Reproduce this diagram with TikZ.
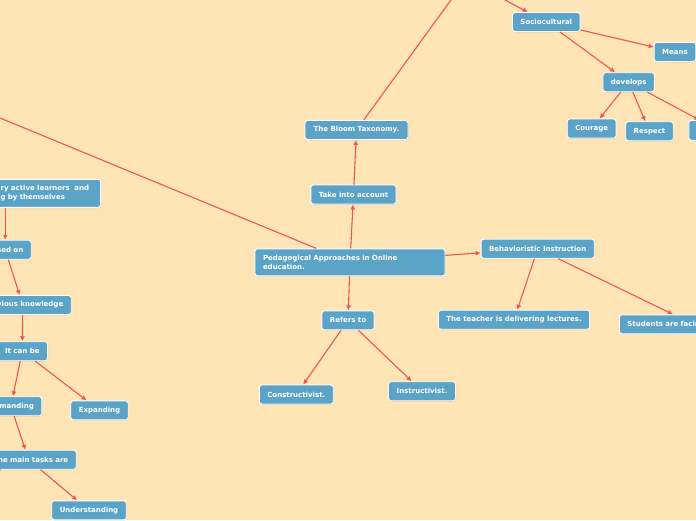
\documentclass[tikz,border=0pt]{standalone}
\usepackage{fontspec}
\setmainfont{DejaVu Sans}
\usetikzlibrary{arrows.meta,shadows}
\definecolor{bgc}{RGB}{255,228,181}
\definecolor{nodeblue}{RGB}{91,164,200}
\definecolor{linered}{RGB}{238,86,86}
\tikzset{
  box/.style={rectangle, rounded corners=2.5pt, fill=nodeblue, draw=white, line width=0.9pt,
    text=white, font=\bfseries\fontsize{7}{8.5}\selectfont, minimum height=19pt,
    inner xsep=8pt, inner ysep=2pt,
    drop shadow={opacity=0.25, shadow xshift=0.5pt, shadow yshift=-0.8pt}},
  arr/.style={draw=linered, line width=1.1pt, -{Latex[length=5pt,width=5pt]}}
}
\begin{document}
\begin{tikzpicture}[x=1pt,y=-1pt]
\useasboundingbox (0,0) rectangle (696,520);
\fill[bgc] (0,0) rectangle (696,520);
\clip (0,0) rectangle (696,520);

% centre
\node[box, minimum height=27pt, text width=174pt, align=left] (main) at (350,262.3) {Pedagogical Approaches in Online\\education.};
\node[box, minimum width=85pt] (take) at (353.5,194.5) {Take into account};
\node[box, minimum width=103pt] (bloom) at (356.5,130) {The Bloom Taxonomy.};
\node[box, minimum width=52pt] (refers) at (348,320.3) {Refers to};
\node[box, minimum width=71pt] (constr) at (296.3,394.5) {Constructivist.};
\node[box, minimum width=67pt] (instr) at (422,391.2) {Instructivist.};
\node[box, minimum width=113pt] (behav) at (537.7,248.7) {Behavioristic Instruction};
\node[box, minimum width=149pt] (teacher) at (514,319.7) {The teacher is delivering lectures.};
\node[box, anchor=west, text width=132pt, align=left] (students) at (619,324.3) {Students are facing};

% top right
\node[box, minimum width=67pt] (socio) at (546.3,22) {Sociocultural};
\node[box, minimum width=40pt] (means) at (675,52) {Means};
\node[box, minimum width=51pt] (develops) at (628.7,82.2) {develops};
\node[box, minimum width=48pt] (courage) at (591.7,128.5) {Courage};
\node[box, minimum width=46pt] (respect) at (649.5,131.2) {Respect};
\node[box, anchor=west, minimum width=60pt, minimum height=20pt] (rnode) at (688.5,130.3) {};

% left
\node[box, anchor=east, minimum height=28pt, text width=92pt, align=left] (active) at (101,193.3) {ry active learners\ \ and\\g by themselves};
\node[box, anchor=east, text width=36pt, align=right] (sedon) at (31.7,249.7) {sed on};
\node[box, anchor=east, text width=81pt, align=right] (vious) at (71.7,305) {vious knowledge};
\node[box, minimum width=50pt] (canbe) at (22.3,351.2) {It can be};
\node[box, anchor=east, text width=46pt, align=right] (manding) at (42.3,406.2) {manding};
\node[box, minimum width=56pt] (expanding) at (99.5,410.3) {Expanding};
\node[box, anchor=east, text width=79pt, align=right] (tasks) at (76.7,459.7) {he main tasks are};
\node[box, minimum width=73pt] (underst) at (89,510.3) {Understanding};

% off-canvas ends
\coordinate (offL) at (-40,101.5);
\coordinate (offT) at (480,-40);
\coordinate (offS) at (430,-40);
\coordinate (offTL) at (-60,491);

% connectors
\draw[arr] (main) -- (take);
\draw[arr] (take) -- (bloom);
\draw[arr] (bloom) -- (offT);
\draw[arr] (offS) -- (socio);
\draw[arr] (main) -- (offL);
\draw[arr] (main) -- (refers);
\draw[arr] (refers) -- (constr);
\draw[arr] (refers) -- (instr);
\draw[arr] (main) -- (behav);
\draw[arr] (behav) -- (teacher);
\draw[arr] (behav) -- (students);
\draw[arr] (socio) -- (means);
\draw[arr] (socio) -- (develops);
\draw[arr] (develops) -- (courage);
\draw[arr] (develops) -- (respect);
\draw[arr] (develops) -- (rnode);
\draw[arr] (active.south -| sedon.north) -- (sedon);
\draw[arr] (sedon) -- (vious);
\draw[arr] (vious) -- (canbe);
\draw[arr] (canbe) -- (manding);
\draw[arr] (canbe) -- (expanding);
\draw[arr] (manding) -- (tasks);
\draw[arr] (tasks) -- (underst);
\draw[arr] (tasks) -- (offTL);
\end{tikzpicture}
\end{document}
